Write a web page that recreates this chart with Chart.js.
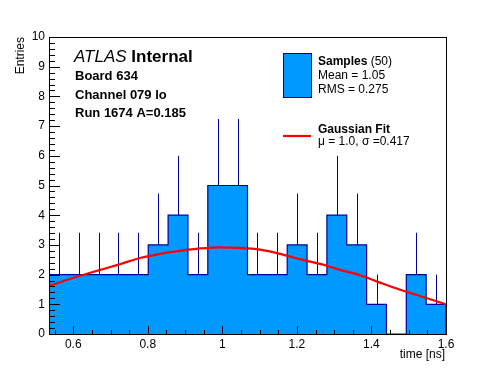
<!DOCTYPE html>
<html>
<head>
<meta charset="utf-8">
<script src="https://cdn.jsdelivr.net/npm/chart.js@4.4.1/dist/chart.umd.min.js"></script>
<style>
  html, body { margin: 0; padding: 0; background: #fff; }
  #timeChart { display: block; }
</style>
</head>
<body>
<canvas id="timeChart" width="496" height="372"></canvas>
<script>
// histogram: 20 bins between xMin and xMax
var xMin = 0.535;
var xMax = 1.6;
var binCounts = [2, 2, 2, 2, 2, 3, 4, 2, 5, 5, 2, 2, 3, 2, 4, 3, 1, 0, 2, 1];
var binErrors = [1.41, 1.41, 1.41, 1.41, 1.41, 1.73, 2.0, 1.41, 2.24, 2.24, 1.41, 1.41, 1.73, 1.41, 2.0, 1.73, 1.0, 0, 1.41, 1.0];

// gaussian fit
var fitX = [0.535, 0.618, 0.672, 0.725, 0.779, 0.833, 0.886, 0.940, 0.994, 1.047, 1.101, 1.155, 1.208, 1.262, 1.316, 1.369, 1.423, 1.477, 1.530, 1.600];
var fitY = [1.62, 1.96, 2.16, 2.35, 2.56, 2.70, 2.80, 2.88, 2.92, 2.90, 2.84, 2.70, 2.52, 2.36, 2.16, 1.98, 1.73, 1.49, 1.28, 1.00];

var xTickLabels = ['0.6', '0.8', '1', '1.2', '1.4', '1.6'];
var yTickLabels = ['0', '1', '2', '3', '4', '5', '6', '7', '8', '9', '10'];

var FONT = '"Liberation Sans", Arial, Helvetica, sans-serif';
var binWidth = (xMax - xMin) / binCounts.length;

// outline of the histogram as a step path
var histPoints = [{ x: xMin, y: 0 }];
binCounts.forEach(function (v, i) {
    histPoints.push({ x: xMin + i * binWidth, y: v });
    histPoints.push({ x: xMin + (i + 1) * binWidth, y: v });
});
histPoints.push({ x: xMax, y: 0 });

var fitPoints = fitX.map(function (x, i) { return { x: x, y: fitY[i] }; });

var rootStyle = {
    id: 'rootStyle',
    afterDatasetDraw: function (chart, args) {
        if (args.index !== 0) return;
        // error bars (upper half, the rest is under the fill)
        var ctx = chart.ctx, xs = chart.scales.x, ys = chart.scales.y;
        ctx.save();
        ctx.strokeStyle = '#000099';
        ctx.lineWidth = 1;
        binCounts.forEach(function (v, i) {
            if (!binErrors[i]) return;
            var px = Math.round(xs.getPixelForValue(xMin + (i + 0.5) * binWidth)) + 0.5;
            ctx.beginPath();
            ctx.moveTo(px, ys.getPixelForValue(v));
            ctx.lineTo(px, ys.getPixelForValue(v + binErrors[i]));
            ctx.stroke();
        });
        ctx.restore();
    },
    afterDraw: function (chart) {
        var ctx = chart.ctx, a = chart.chartArea;
        var xs = chart.scales.x, ys = chart.scales.y;
        ctx.save();
        ctx.strokeStyle = '#000';
        ctx.lineWidth = 1;
        ctx.strokeRect(a.left + 0.5, a.top + 0.5, a.right - a.left, a.bottom - a.top);

        // y ticks (inward)
        ctx.beginPath();
        for (var k = 0; k <= 50; k++) {
            var py = Math.round(ys.getPixelForValue(k * 0.2)) + 0.5;
            var len = (k % 5 === 0) ? 11 : 6;
            ctx.moveTo(a.left, py);
            ctx.lineTo(a.left + len, py);
        }
        // x ticks (inward)
        for (var j = 0; j <= 21; j++) {
            var xv = 0.55 + j * 0.05;
            if (xv > xMax + 1e-6) break;
            var px = Math.round(xs.getPixelForValue(xv)) + 0.5;
            var l2 = (j % 4 === 1) ? 8 : 4;
            ctx.moveTo(px, a.bottom);
            ctx.lineTo(px, a.bottom - l2);
        }
        ctx.stroke();

        ctx.fillStyle = '#000';
        ctx.font = '12px ' + FONT;
        ctx.textAlign = 'right';
        ctx.textBaseline = 'middle';
        yTickLabels.forEach(function (t) {
            ctx.fillText(t, a.left - 4, ys.getPixelForValue(parseFloat(t)));
        });
        ctx.textAlign = 'center';
        xTickLabels.forEach(function (t) {
            ctx.fillText(t, xs.getPixelForValue(parseFloat(t)), a.bottom + 11);
        });
        ctx.textAlign = 'right';
        ctx.fillText('time [ns]', a.right - 1, a.bottom + 21);

        ctx.save();
        ctx.translate(21, a.top);
        ctx.rotate(-Math.PI / 2);
        ctx.textAlign = 'right';
        ctx.fillText('Entries', 0, 0);
        ctx.restore();

        // ATLAS label
        ctx.textAlign = 'left';
        ctx.font = 'italic 17px ' + FONT;
        ctx.fillText('ATLAS', 74, 57);
        var w = ctx.measureText('ATLAS ').width;
        ctx.font = 'bold 17px ' + FONT;
        ctx.fillText('Internal', 74 + w, 57);
        ctx.font = 'bold 13px ' + FONT;
        ctx.fillText('Board 634', 75, 76);
        ctx.fillText('Channel 079 lo', 75, 95);
        ctx.fillText('Run 1674 A=0.185', 75, 113);

        // legend
        ctx.fillStyle = 'rgb(0,153,255)';
        ctx.fillRect(283, 53, 28, 44);
        ctx.strokeStyle = '#000099';
        ctx.strokeRect(283.5, 53.5, 28, 44);
        ctx.fillStyle = '#000';
        ctx.font = 'bold 12px ' + FONT;
        ctx.fillText('Samples', 318, 62);
        var ws = ctx.measureText('Samples ').width;
        ctx.font = '12px ' + FONT;
        ctx.fillText('(50)', 318 + ws, 62);
        ctx.fillText('Mean = 1.05', 318, 76);
        ctx.fillText('RMS = 0.275', 318, 90);
        ctx.strokeStyle = '#ff0000';
        ctx.lineWidth = 2.2;
        ctx.beginPath();
        ctx.moveTo(283, 136);
        ctx.lineTo(311, 136);
        ctx.stroke();
        ctx.font = 'bold 12px ' + FONT;
        ctx.fillText('Gaussian Fit', 318, 130);
        ctx.font = '12px ' + FONT;
        ctx.fillText('\u03bc = 1.0, \u03c3 =0.417', 318, 142);
        ctx.restore();
    }
};

var ctx = document.getElementById('timeChart').getContext('2d');
var timeChart = new Chart(ctx, {
    type: 'line',
    data: {
        datasets: [
            {
                label: 'Samples',
                data: histPoints,
                backgroundColor: 'rgb(0,153,255)',
                borderColor: '#000099',
                borderWidth: 1.2,
                fill: 'origin',
                pointRadius: 0,
                tension: 0,
                order: 2
            },
            {
                label: 'Gaussian Fit',
                data: fitPoints,
                borderColor: '#ff0000',
                borderWidth: 2.2,
                fill: false,
                pointRadius: 0,
                cubicInterpolationMode: 'monotone',
                order: 1
            }
        ]
    },
    options: {
        responsive: false,
        animation: false,
        devicePixelRatio: 1,
        layout: { padding: { left: 49, right: 50, top: 37, bottom: 38 } },
        plugins: { legend: { display: false }, tooltip: { enabled: false } },
        scales: {
            x: { type: 'linear', min: xMin, max: xMax, display: false },
            y: { min: 0, max: 10, display: false }
        }
    },
    plugins: [rootStyle]
});
</script>
</body>
</html>
